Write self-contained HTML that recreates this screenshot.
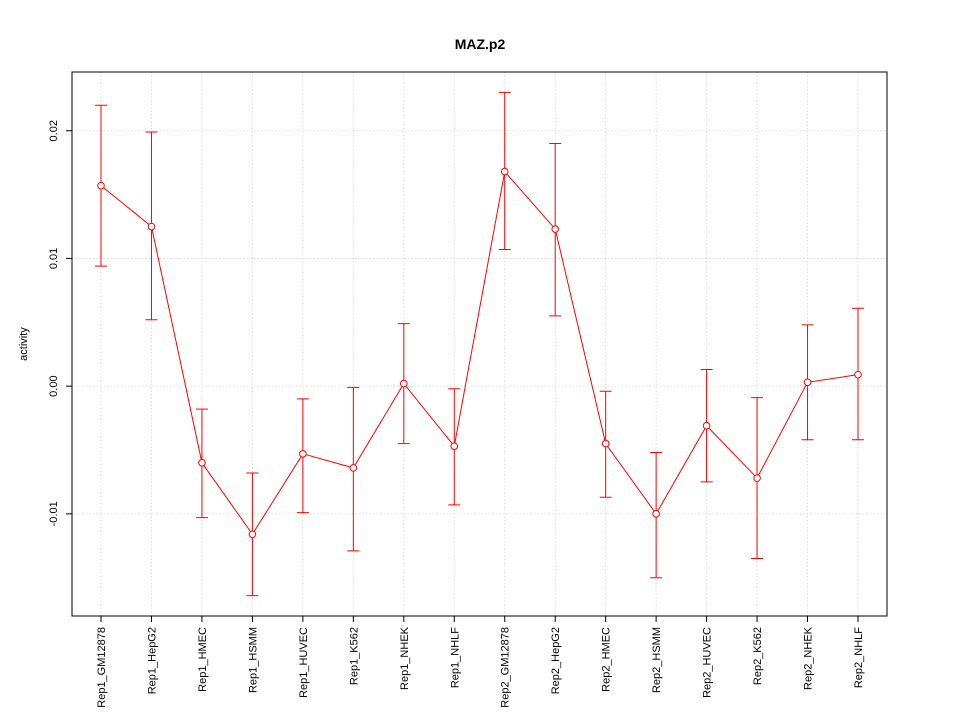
<!DOCTYPE html>
<html><head><meta charset="utf-8"><style>
html,body{margin:0;padding:0;background:#fff;}
svg{display:block;font-family:"Liberation Sans",Arial,sans-serif;}
</style></head><body>
<svg id="chart" width="960" height="720" xmlns="http://www.w3.org/2000/svg">
<text x="480" y="49" text-anchor="middle" font-size="14" font-weight="bold">MAZ.p2</text>
<text transform="translate(27,344) rotate(-90)" text-anchor="middle" font-size="11">activity</text>
<g id="grid"></g>
<g id="yaxis"></g>
<g id="xaxis"></g>
<g id="series"></g>
<rect x="72" y="72" width="815" height="544" fill="none" stroke="#000"/>
</svg>
<script>
const categories = ["Rep1_GM12878","Rep1_HepG2","Rep1_HMEC","Rep1_HSMM","Rep1_HUVEC","Rep1_K562","Rep1_NHEK","Rep1_NHLF","Rep2_GM12878","Rep2_HepG2","Rep2_HMEC","Rep2_HSMM","Rep2_HUVEC","Rep2_K562","Rep2_NHEK","Rep2_NHLF"];
const values = [0.0157,0.0125,-0.0060,-0.0116,-0.0053,-0.0064,0.0002,-0.0047,0.0168,0.0123,-0.0045,-0.0100,-0.0031,-0.0072,0.0003,0.0009];
const upper = [0.0220,0.0199,-0.0018,-0.0068,-0.0010,-0.0001,0.0049,-0.0002,0.0230,0.0190,-0.0004,-0.0052,0.0013,-0.0009,0.0048,0.0061];
const lower = [0.0094,0.0052,-0.0103,-0.0164,-0.0099,-0.0129,-0.0045,-0.0093,0.0107,0.0055,-0.0087,-0.0150,-0.0075,-0.0135,-0.0042,-0.0042];
const yTicks = [-0.01,0,0.01,0.02];
const yTickLabels = ["-0.01","0.00","0.01","0.02"];

const NS="http://www.w3.org/2000/svg";
const yMin=-0.0180,yMax=0.0246,plotTop=72,plotBottom=616;
function ys(v){return plotBottom-(v-yMin)/(yMax-yMin)*(plotBottom-plotTop);}
function xs(i){return 101+i*(858-101)/(categories.length-1);}
function mk(tag,attrs,parent){const e=document.createElementNS(NS,tag);for(const k in attrs)e.setAttribute(k,attrs[k]);parent.appendChild(e);return e;}
const grid=document.getElementById('grid'),ya=document.getElementById('yaxis'),xa=document.getElementById('xaxis'),se=document.getElementById('series');

yTicks.forEach((t,i)=>{
  const y=ys(t);
  const g=mk('line',{x1:72,x2:887,y1:y,y2:y,stroke:'#d3d3d3','stroke-width':0.8,'stroke-dasharray':'1.5,2'},grid);
  
  
  const tk=mk('line',{x1:66,x2:72,y1:y,y2:y,stroke:'#000'},ya);
  
  
  const tx=mk('text',{transform:`translate(57,${y}) rotate(-90)`,'text-anchor':'middle','font-size':11},ya);
  tx.textContent=yTickLabels[i];
  
  
});
categories.forEach((c,i)=>{
  const x=xs(i);
  const g=mk('line',{x1:x,x2:x,y1:72,y2:616,stroke:'#d3d3d3','stroke-width':0.8,'stroke-dasharray':'1.5,2'},grid);
  
  
  const tk=mk('line',{x1:x,x2:x,y1:616,y2:622,stroke:'#000'},xa);
  
  
  const tx=mk('text',{transform:`translate(${x+4},627) rotate(-90)`,'text-anchor':'end','font-size':11},xa);
  tx.textContent=c;
  
  
});
const line=mk('polyline',{points:values.map((v,i)=>xs(i)+','+ys(v)).join(' '),fill:'none',stroke:'#f00'},se);


values.forEach((v,i)=>{
  const x=xs(i);
  const eb=mk('path',{d:`M${x},${ys(lower[i])}V${ys(upper[i])}M${x-6},${ys(upper[i])}H${x+6}M${x-6},${ys(lower[i])}H${x+6}`,stroke:'#f00',fill:'none'},se);
  
  
  const p=mk('circle',{cx:x,cy:ys(v),r:3.3,fill:'#fff',stroke:'#f00'},se);
  
  
});
</script>
</body></html>
